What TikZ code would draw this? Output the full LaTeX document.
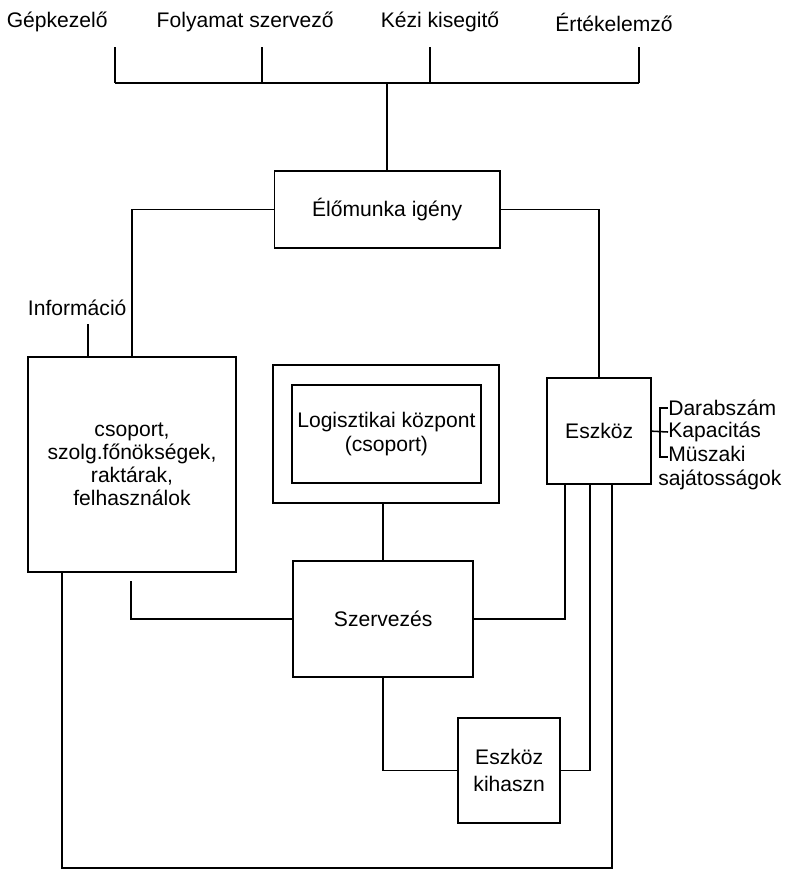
\documentclass[tikz,border=0pt]{standalone}
\usepackage{fontspec}
\setmainfont{Liberation Sans}
\usetikzlibrary{positioning}

\tikzset{
    box/.style={draw, line width=1.2pt, align=center, inner sep=0pt},
    lbl/.style={inner sep=0pt, align=center},
    conn/.style={line width=1.1pt},
}

\begin{document}
\begin{tikzpicture}[font=\fontsize{15}{16.5}\selectfont]

    \useasboundingbox (0,0) rectangle (19.75,-21.775);

    % top labels
    \node[lbl] (gep) at (1.43, -0.55) {Gépkezelő};
    \node[lbl] (foly) at (6.13, -0.55) {Folyamat szervező};
    \node[lbl] (kezi) at (11.0, -0.55) {Kézi kisegitő};
    \node[lbl] (ertek) at (15.35, -0.55) {Értékelemző};

    \foreach \x in {2.88,6.55,10.75,15.98}
        \draw[conn] (\x, -1.18) -- (\x, -2.08);
    \draw[conn] (2.88, -2.08) -- (15.98, -2.08);
    \coordinate (join) at (9.68, -2.08);

    % boxes
    \node[box, minimum width=5.63cm, minimum height=1.93cm] (elo) at (9.68, -5.24) {Élőmunka igény};
    \node[box, minimum width=5.2cm, minimum height=5.37cm] (lbox) at (3.3, -11.61)
        {csoport,\\szolg.főnökségek,\\raktárak,\\felhasználok};
    \node[box, minimum width=5.65cm, minimum height=3.45cm] (logo) at (9.65, -10.85) {};
    \node[box, minimum width=4.73cm, minimum height=2.45cm] (login) at (9.66, -10.85)
        {Logisztikai központ\\(csoport)};
    \node[box, minimum width=4.5cm, minimum height=2.9cm] (szerv) at (9.58, -15.48) {Szervezés};
    \node[box, minimum width=2.6cm, minimum height=2.65cm] (eszkoz) at (14.98, -10.78) {Eszköz};
    \node[box, minimum width=2.55cm, minimum height=2.63cm, font=\fontsize{15}{19}\selectfont]
        (kihaszn) at (12.73, -19.26) {Eszköz\\kihaszn};

    % labels
    \node[lbl] (info) at (1.93, -7.7) {Információ};
    \node[lbl, anchor=west] (darab) at (16.7, -10.2) {Darabszám};
    \node[lbl, anchor=west] (kapac) at (16.7, -10.8) {Kapacitás};
    \node[lbl, anchor=west, align=left, font=\fontsize{15}{17}\selectfont] (musz) at (16.7, -11.7)
        {Müszaki\\\hspace*{-0.25cm}sajátosságok};

    % connections
    \draw[conn] (elo.north) -- (elo.north |- join);
    \draw[conn] (elo.west) -| (lbox.north);
    \draw[conn] (elo.east) -| (eszkoz.north);

    \coordinate (infotick) at (2.2, -8.1);
    \draw[conn] (infotick) -- (infotick |- lbox.north);

    \draw[conn] (szerv.north) -- (szerv.north |- logo.south);
    \coordinate (infoend) at (3.28, -14.53);
    \draw[conn] (infoend) |- (szerv.west);
    \draw[conn] (szerv.east) -| ([xshift=-0.85cm]eszkoz.south);
    \draw[conn] (szerv.south) |- (kihaszn.west);
    \draw[conn] (kihaszn.east) -| ([xshift=-0.23cm]eszkoz.south);

    \coordinate (corner) at (15.3, -21.7);
    \draw[conn] ([xshift=0.32cm]eszkoz.south) -- (corner) -| ([xshift=-1.75cm]lbox.south);

    % bracket
    \coordinate (bend) at (16.5, -11.43);
    \draw[conn] (eszkoz.east) -- (kapac.west);
    \draw[conn] (darab.west) -| (bend) -- (16.7, -11.43);

\end{tikzpicture}
\end{document}
